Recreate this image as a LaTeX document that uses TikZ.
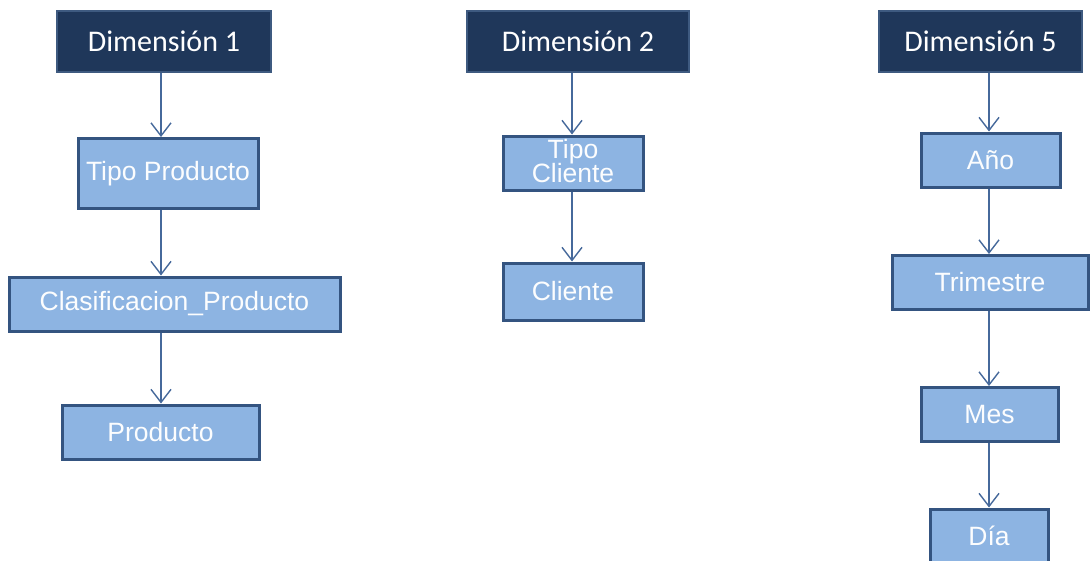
\documentclass[tikz,border=0pt]{standalone}
\usepackage{fontspec}
\setmainfont{Liberation Sans}
\newfontfamily\hdrfont{Carlito}
\usetikzlibrary{arrows.meta}
\definecolor{hdrfill}{RGB}{31,55,90}
\definecolor{hdrline}{RGB}{62,90,128}
\definecolor{boxfill}{RGB}{141,180,226}
\definecolor{boxline}{RGB}{52,84,128}
\definecolor{arrline}{RGB}{70,105,155}
\tikzset{
  hdr/.style={draw=hdrline, fill=hdrfill, line width=2pt, text=white,
    font=\hdrfont\fontsize{30}{32}\selectfont, inner sep=0pt,
    minimum height=61pt},
  lvl/.style={draw=boxline, fill=boxfill, line width=3pt, text=white!97!boxfill,
    font=\fontsize{26.5}{28}\selectfont, inner sep=0pt, align=center,
    minimum height=54pt},
  arr/.style={draw=arrline, line width=1.4pt,
    -{Straight Barb[length=13pt,width=20pt,line width=1.4pt]}}
}
\begin{document}
\begin{tikzpicture}[x=1pt,y=-1pt]
\useasboundingbox (0,0) rectangle (1091,560);
% headers
\node[hdr, minimum width=214pt] (d1) at (164,41.5) {Dimensión 1};
\node[hdr, minimum width=222pt] (d2) at (578,41.5) {Dimensión 2};
\node[hdr, minimum width=203pt] (d5) at (980.5,41.5) {Dimensión 5};
% product hierarchy
\node[lvl, minimum width=180pt, minimum height=70pt] (tp) at (168,173.5) {Tipo Producto};
\node[lvl, minimum width=331pt] (cp) at (174.5,304) {Clasificacion\_Producto};
\node[lvl, minimum width=197pt] (pr) at (160.5,432) {Producto};
% customer hierarchy
\node[lvl, minimum width=140pt] (tc) at (573,163) {\raisebox{4pt}{\shortstack{Tipo\\[-3pt]Cliente}}};
\node[lvl, minimum width=140pt, minimum height=57pt] (cl) at (573,291.5) {Cliente};
% time hierarchy
\node[lvl, minimum width=139pt] (an) at (990.5,160) {Año};
\node[lvl, minimum width=196pt] (tr) at (990,282.5) {Trimestre};
\node[lvl, minimum width=137pt] (me) at (989.5,414.5) {Mes};
\node[lvl, minimum width=118pt] (di) at (989,536) {Día};
% arrow columns
\coordinate (c1) at (161,0);
\coordinate (c2) at (572,0);
\coordinate (c5) at (989,0);
\draw[arr] (d1.south -| c1) -- (tp.north -| c1);
\draw[arr] (tp.south -| c1) -- (cp.north -| c1);
\draw[arr] (cp.south -| c1) -- (pr.north -| c1);
\draw[arr] (d2.south -| c2) -- (tc.north -| c2);
\draw[arr] (tc.south -| c2) -- (cl.north -| c2);
\draw[arr] (d5.south -| c5) -- (an.north -| c5);
\draw[arr] (an.south -| c5) -- (tr.north -| c5);
\draw[arr] (tr.south -| c5) -- (me.north -| c5);
\draw[arr] (me.south -| c5) -- (di.north -| c5);
\end{tikzpicture}
\end{document}
